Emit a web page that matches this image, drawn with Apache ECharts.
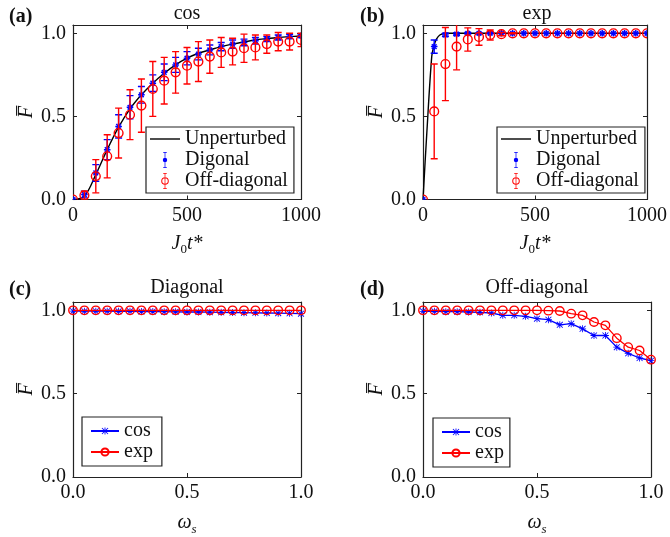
<!DOCTYPE html>
<html><head><meta charset="utf-8">
<script src="https://cdn.jsdelivr.net/npm/echarts@6/dist/echarts.min.js"></script>
<style>html,body{margin:0;padding:0;background:#fff}#c{width:670px;height:537px}</style>
</head><body><div id="c"></div>
<script>
// ---- data ----
const tTime = [0,50,100,150,200,250,300,350,400,450,500,550,600,650,700,750,800,850,900,950,1000];
const cosUnpert = [0,0.02,0.15,0.30,0.435,0.545,0.63,0.70,0.76,0.81,0.85,0.88,0.90,0.92,0.935,0.948,0.96,0.968,0.975,0.98,0.984];
const cosDiag = [0,0.03,0.16,0.30,0.44,0.555,0.63,0.70,0.765,0.81,0.85,0.875,0.90,0.92,0.935,0.945,0.955,0.965,0.975,0.98,0.985];
const cosDiagErr = [0,0.02,0.05,0.06,0.07,0.07,0.05,0.05,0.05,0.045,0.04,0.035,0.03,0.025,0.025,0.02,0.02,0.015,0.015,0.012,0.01];
const cosOff = [0,0.025,0.14,0.26,0.40,0.51,0.565,0.665,0.715,0.765,0.805,0.83,0.86,0.885,0.89,0.91,0.915,0.935,0.95,0.95,0.96];
const cosOffErr = [0,0.025,0.10,0.13,0.15,0.15,0.16,0.165,0.14,0.125,0.11,0.12,0.10,0.09,0.08,0.085,0.075,0.055,0.055,0.05,0.04];

const expUnpertT = [0,17,39,50,60,75,100,150,200,250,300,350,400,450,500,550,600,650,700,750,800,850,900,950,1000];
const expUnpert = [0,0.40,0.86,0.93,0.965,0.99,1,1,1,1,1,1,1,1,1,1,1,1,1,1,1,1,1,1,1];
const expDiag = [0,0.92,0.99,0.995,1,1,1,1,1,1,1,1,1,1,1,1,1,1,1,1,1];
const expDiagErr = [0,0.04,0.01,0.008,0.005,0.004,0.003,0.002,0,0,0,0,0,0,0,0,0,0,0,0,0];
const expOff = [0,0.53,0.815,0.92,0.963,0.978,0.99,0.995,1,1,1,1,1,1,1,1,1,1,1,1,1];
const expOffErr = [0,0.285,0.22,0.14,0.07,0.05,0.03,0.01,0.003,0,0,0,0,0,0,0,0,0,0,0,0];

const omega = [0,0.05,0.1,0.15,0.2,0.25,0.3,0.35,0.4,0.45,0.5,0.55,0.6,0.65,0.7,0.75,0.8,0.85,0.9,0.95,1.0];
const diagCos = [0.995,0.995,0.995,0.995,0.994,0.994,0.993,0.993,0.992,0.991,0.990,0.990,0.989,0.988,0.987,0.986,0.985,0.984,0.983,0.982,0.980];
const diagExp = [1,1,1,1,1,1,1,1,1,1,1,1,1,1,1,1,1,1,1,1,1];
const offCos = [0.994,0.994,0.992,0.992,0.99,0.988,0.984,0.97,0.97,0.964,0.95,0.944,0.913,0.92,0.889,0.849,0.849,0.779,0.742,0.714,0.698];
const offExp = [1,1,1,1,1,1,1,1,1,1,1,0.998,0.996,0.98,0.97,0.93,0.91,0.833,0.779,0.759,0.704];

const timeTicks = [0,500,1000];
const omegaTicks = ['0.0','0.5','1.0'];
const yTickLabels = ['0.0','0.5','1.0'];

// ---- styling ----
const FONT = 'Liberation Serif';
const AX = '#222';
const BLUE = '#0000ff', RED = '#ff0000';
const grids = [
  {left:73, top:25, width:228, height:174.5},
  {left:423, top:25, width:228, height:174.5},
  {left:73, top:302, width:228, height:175},
  {left:423, top:302, width:228, height:175}
];
const STAR = 'path://M4.4 0H5.6V10H4.4Z M0 4.4H10V5.6H0Z M1.2 0.35L9.65 8.8L8.8 9.65L0.35 1.2Z M8.8 0.35L9.65 1.2L1.2 9.65L0.35 8.8Z';
const ICON_LINE = 'path://M0 0H30V1.4H0Z';
const ICON_DIAG = 'path://M5.5 0H6.5V22H5.5Z M3.5 0H8.5V1.1H3.5Z M3.5 20.9H8.5V22H3.5Z M6 8A3 3 0 1 1 5.99 8Z';
const ICON_OFF = 'path://M5.5 0H6.5V22H5.5Z M3.5 0H8.5V1.1H3.5Z M3.5 20.9H8.5V22H3.5Z M6 5.8A5.2 5.2 0 1 1 5.99 5.8Z M6 7.2A3.8 3.8 0 1 0 6.01 7.2Z';

function yLab(v){
  const s = v.toFixed(1);
  return (Math.abs(v*2 - Math.round(v*2)) < 1e-6 && yTickLabels.includes(s)) ? s : '';
}
const xAxes = [], yAxes = [];
grids.forEach((g, i) => {
  const isTime = i < 2;
  xAxes.push({
    gridIndex:i, type:'value', min:0, max:isTime?1000:1, interval:isTime?500:0.5, position:'bottom',
    axisLine:{show:true, onZero:false, lineStyle:{color:AX, width:1.2}},
    axisTick:{show:true, inside:true, length:4, lineStyle:{color:AX}},
    splitLine:{show:false},
    axisLabel:{color:'#111', fontFamily:FONT, fontSize:20, margin:6,
      formatter: v => isTime ? (timeTicks.includes(v) ? String(v) : '') : (omegaTicks.includes(v.toFixed(1)) ? v.toFixed(1) : '')},
    name: isTime ? '{i|J}{s|0}{i|t*}' : '{i|ω}{s|s}',
    nameLocation:'middle', nameGap: isTime ? 31 : 33,
    nameTextStyle:{rich:{
      i:{fontFamily:FONT, fontStyle:'italic', fontSize:20, lineHeight:26, verticalAlign:'middle', color:'#111'},
      s:{fontFamily:FONT, fontStyle: isTime ? 'normal':'italic', fontSize:13, lineHeight:13, verticalAlign:'bottom', color:'#111'}
    }}
  });
  xAxes.push({
    gridIndex:i, type:'value', min:0, max:isTime?1000:1, interval:isTime?500:0.5, position:'top',
    axisLine:{show:true, onZero:false, lineStyle:{color:AX, width:1.2}},
    axisTick:{show:true, inside:true, length:4, lineStyle:{color:AX}},
    axisLabel:{show:false}, splitLine:{show:false}
  });
  yAxes.push({
    gridIndex:i, type:'value', min:0, max:1.05, interval:0.5, position:'left',
    axisLine:{show:true, onZero:false, lineStyle:{color:AX, width:1.2}},
    axisTick:{show:true, inside:true, length:4, lineStyle:{color:AX}},
    splitLine:{show:false},
    axisLabel:{color:'#111', fontFamily:FONT, fontSize:20, margin:7, formatter: yLab},
    name:'F\u0305', nameLocation:'middle', nameGap:35, nameRotate:90,
    nameTextStyle:{fontFamily:FONT, fontStyle:'italic', fontSize:20, color:'#111'}
  });
  yAxes.push({
    gridIndex:i, type:'value', min:0, max:1.05, interval:0.5, position:'right',
    axisLine:{show:true, onZero:false, lineStyle:{color:AX, width:1.2}},
    axisTick:{show:true, inside:true, length:4, lineStyle:{color:AX}},
    axisLabel:{show:false}, splitLine:{show:false}
  });
});

function errRender(kind, color){
  return function(params, api){
    const x = api.value(0), y = api.value(1), e = api.value(2);
    const c = api.coord([x, y]);
    const ch = [];
    const ls = {stroke:color, lineWidth:1.4};
    if (e > 0) {
      const lo = api.coord([x, y - e]), hi = api.coord([x, y + e]);
      const cw = 3.5;
      ch.push({type:'line', shape:{x1:c[0], y1:hi[1], x2:c[0], y2:lo[1]}, style:ls});
      ch.push({type:'line', shape:{x1:c[0]-cw, y1:hi[1], x2:c[0]+cw, y2:hi[1]}, style:ls});
      ch.push({type:'line', shape:{x1:c[0]-cw, y1:lo[1], x2:c[0]+cw, y2:lo[1]}, style:ls});
    }
    if (kind === 'star') {
      const r = 3.3;
      [0, 45, 90, 135].forEach(a => {
        const rad = a * Math.PI / 180, dx = r*Math.cos(rad), dy = r*Math.sin(rad);
        ch.push({type:'line', shape:{x1:c[0]-dx, y1:c[1]-dy, x2:c[0]+dx, y2:c[1]+dy}, style:{stroke:color, lineWidth:1.5}});
      });
    } else {
      ch.push({type:'circle', shape:{cx:c[0], cy:c[1], r:4.4}, style:{fill:'none', stroke:color, lineWidth:1.4}});
    }
    return {type:'group', children:ch};
  };
}

function errSeries(name, kind, color, gi, xs, ys, es, z){
  return {
    name, type:'custom', xAxisIndex:gi*2, yAxisIndex:gi*2, clip:true, z,
    itemStyle:{color},
    renderItem: errRender(kind, color),
    encode:{x:0, y:1},
    data: xs.map((t, k) => [t, ys[k], es[k]])
  };
}

const series = [
  {name:'Unperturbed', type:'line', xAxisIndex:0, yAxisIndex:0, symbol:'none', smooth:0.35, z:2,
   lineStyle:{color:'#000', width:1.4}, itemStyle:{color:'#000'},
   data: tTime.map((t,k)=>[t, cosUnpert[k]])},
  errSeries('Digonal', 'star', BLUE, 0, tTime, cosDiag, cosDiagErr, 3),
  errSeries('Off-diagonal', 'circle', RED, 0, tTime, cosOff, cosOffErr, 4),
  {name:'Unperturbed', type:'line', xAxisIndex:2, yAxisIndex:2, symbol:'none', smooth:0.3, z:2,
   lineStyle:{color:'#000', width:1.4}, itemStyle:{color:'#000'},
   data: expUnpertT.map((t,k)=>[t, expUnpert[k]])},
  errSeries('Digonal', 'star', BLUE, 1, tTime, expDiag, expDiagErr, 3),
  errSeries('Off-diagonal', 'circle', RED, 1, tTime, expOff, expOffErr, 4),
  {name:'cos', type:'line', xAxisIndex:4, yAxisIndex:4, symbol:STAR, symbolSize:7, z:3,
   lineStyle:{color:BLUE, width:1.3}, itemStyle:{color:BLUE},
   data: omega.map((w,k)=>[w, diagCos[k]])},
  {name:'exp', type:'line', xAxisIndex:4, yAxisIndex:4, symbol:'circle', symbolSize:8.5, z:4,
   lineStyle:{color:RED, width:1.3}, itemStyle:{color:'rgba(0,0,0,0)', borderColor:RED, borderWidth:1.4},
   data: omega.map((w,k)=>[w, diagExp[k]])},
  {name:'cos', type:'line', xAxisIndex:6, yAxisIndex:6, symbol:STAR, symbolSize:7, z:3,
   lineStyle:{color:BLUE, width:1.3}, itemStyle:{color:BLUE},
   data: omega.map((w,k)=>[w, offCos[k]])},
  {name:'exp', type:'line', xAxisIndex:6, yAxisIndex:6, symbol:'circle', symbolSize:8.5, z:4,
   lineStyle:{color:RED, width:1.3}, itemStyle:{color:'rgba(0,0,0,0)', borderColor:RED, borderWidth:1.4},
   data: omega.map((w,k)=>[w, offExp[k]])}
];

const legendBase = {
  orient:'vertical', selectedMode:false, backgroundColor:'#fff',
  borderColor:AX, borderWidth:1.2, borderRadius:0,
  itemWidth:30, itemHeight:16, itemGap:1,
  textStyle:{fontFamily:FONT, fontSize:20, lineHeight:20, color:'#111'}
};
const errLegendData = [
  {name:'Unperturbed', icon:ICON_LINE, itemStyle:{color:'#000'}},
  {name:'Digonal', icon:ICON_DIAG, itemStyle:{color:BLUE}},
  {name:'Off-diagonal', icon:ICON_OFF, itemStyle:{color:RED}}
];
const legends = [
  Object.assign({}, legendBase, {left:146, top:127, padding:[2,6,2,4], data:errLegendData}),
  Object.assign({}, legendBase, {left:497, top:127, padding:[2,6,2,4], data:errLegendData}),
  Object.assign({}, legendBase, {left:82, top:417, padding:[4,9,4,8], itemWidth:28, itemHeight:9, itemGap:1, data:['cos','exp']}),
  Object.assign({}, legendBase, {left:433, top:418, padding:[4,6,4,8], itemWidth:28, itemHeight:9, itemGap:1, data:['cos','exp']})
];

function txt(text, x, y, bold){
  return {type:'text', x, y, style:{text, fontFamily:FONT, fontSize:20, fontWeight: bold?'bold':'normal',
    fill:'#111', align: bold?'left':'center', verticalAlign:'middle'}};
}
const graphics = [
  txt('(a)', 9, 17, true), txt('cos', 187, 14, false),
  txt('(b)', 360, 17, true), txt('exp', 537, 14, false),
  txt('(c)', 9, 290, true), txt('Diagonal', 187, 288, false),
  txt('(d)', 360, 290, true), txt('Off-diagonal', 537, 288, false)
];

const chart = echarts.init(document.getElementById('c'), null, {renderer:'canvas'});
chart.setOption({
  animation:false,
  backgroundColor:'#fff',
  grid: grids,
  xAxis: xAxes,
  yAxis: yAxes,
  legend: legends,
  graphic: graphics,
  series
});
</script></body></html>
